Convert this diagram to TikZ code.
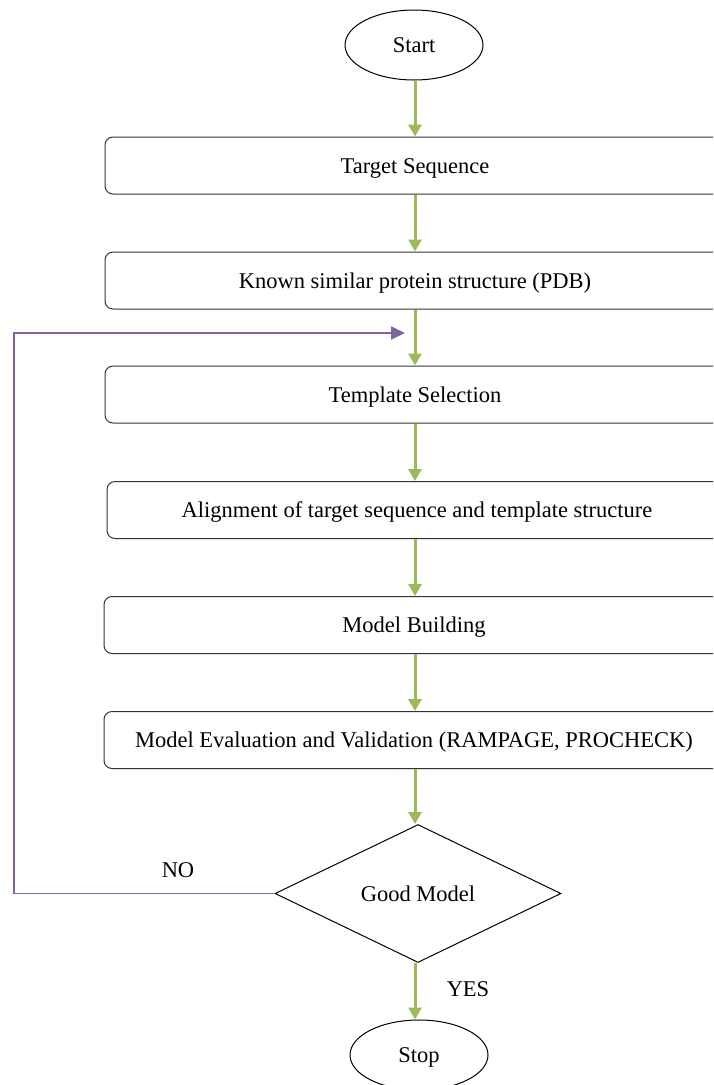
\documentclass[tikz,border=0pt]{standalone}
\usepackage{fontspec}
\setmainfont{Liberation Serif}
\usetikzlibrary{shapes.geometric,     % ellipse, losange
                arrows.meta}          % pointes Triangle
\definecolor{vert}{RGB}{155,187,89}
\definecolor{lila}{RGB}{128,100,162}
\tikzset{
  etape/.style={draw=black!80, line width=1pt, rounded corners=8pt,
                minimum width=620pt, minimum height=57pt, inner sep=0pt},
  borne/.style={draw, line width=1pt, ellipse, minimum width=138pt,
                minimum height=70pt, inner sep=0pt},
  fleche/.style={vert, line width=3pt, -{Triangle[width=13pt,length=12pt]}},
  retourfl/.style={lila, line width=1.8pt, -{Triangle[width=13pt,length=14pt]}}
}

\begin{document}
\begin{tikzpicture}[x=1pt,y=-1pt,font=\fontsize{22.5}{27}\selectfont,
                    every node/.append style={text height=15pt, text depth=0pt}]
    \clip (0,0) rectangle (713,1085);
    \node[borne](start)at(414,45){Start};
    \node[etape](target)at(415,165.5){Target Sequence};
    \node[etape](known)at(415,280.5){Known similar protein structure (PDB)};
    \node[etape](templ)at(415,394.5){Template Selection};
    \node[etape](align)at(417,510){Alignment of target sequence and template structure};
    \node[etape](build)at(414,625){Model Building};
    \node[etape](eval)at(414,740){Model Evaluation and Validation (RAMPAGE, PROCHECK)};
    \node[draw, line width=1pt, diamond, minimum width=286pt, minimum height=138pt,
          inner sep=0pt](good)at(418,893.5){Good Model};
    \node[borne](stop)at(419,1055){Stop};
    \foreach \a/\b in {start/target,target/known,known/templ,templ/align,
                       align/build,build/eval,eval/good,good/stop}
        \draw[fleche] (\a.south -| known) -- (\b.north -| known);
    \coordinate (coin) at (14,893.5);
    \coordinate (retour) at (405,333);
    \draw[retourfl] (good.west) -- (coin) |- (retour);
    \node(non)at(178,870){NO};
    \node(oui)at(468,989){YES};
\end{tikzpicture}
\end{document}
